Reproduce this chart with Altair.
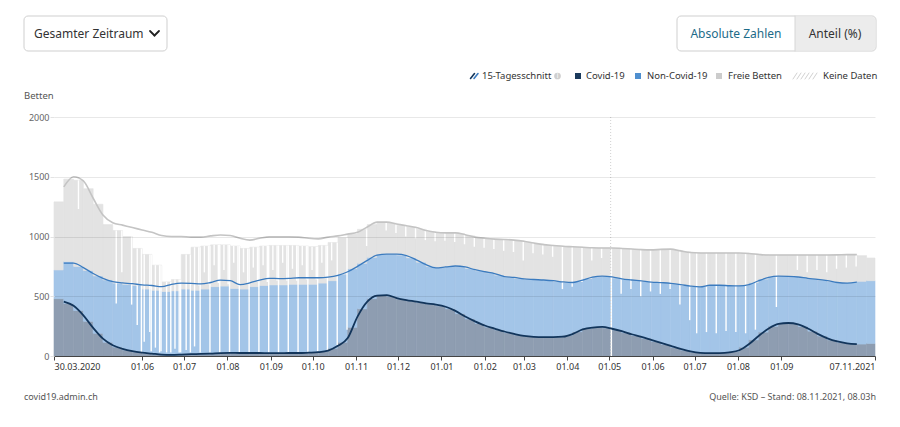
import altair as alt
import pandas as pd

FONT = "Noto Sans"
START = pd.Timestamp("2020-03-30")
END = pd.Timestamp("2021-11-07")

# ---------------- data ----------------
# weekly bars (weeks starting Monday 30.03.2020), stacked levels in beds
week_start = pd.date_range("2020-03-30", periods=84, freq="7D")
covid_bar = [
    480, 440, 380, 290, 190, 115, 75, 50, 34, 24,
    16, 11, 10, 12, 15, 17, 20, 24, 26, 25,
    25, 25, 24, 24, 25, 26, 30, 38, 65, 115,
    240, 395, 480, 508, 498, 477, 462, 448, 435, 420,
    395, 354, 310, 272, 242, 218, 195, 176, 164, 159,
    158, 160, 173, 203, 230, 240, 236, 218, 195, 171,
    148, 122, 98, 72, 49, 32, 25, 24, 27, 39,
    74, 135, 200, 249, 272, 271, 248, 208, 167, 135,
    114, 103, 100, 105]
occupied_bar = [
    720, 790, 750, 715, 670, 636, 610, 600, 590, 560,
    550, 540, 545, 560, 550, 560, 580, 585, 565, 560,
    580, 590, 595, 595, 600, 600, 600, 610, 630, 685,
    730, 775, 825, 850, 852, 845, 822, 785, 750, 740,
    748, 748, 733, 713, 697, 677, 660, 650, 642, 638,
    633, 625, 617, 625, 648, 664, 665, 653, 640, 632,
    623, 616, 611, 603, 591, 581, 585, 592, 590, 587,
    592, 614, 644, 663, 667, 664, 656, 646, 636, 622,
    612, 614, 625, 630]
total_bar = [
    1290, 1480, 1470, 1400, 1270, 1100, 1050, 1000, 900, 850,
    760, 620, 640, 850, 910, 920, 930, 930, 920, 900,
    910, 920, 925, 925, 925, 920, 915, 925, 950, 990,
    1020, 1060, 1100, 1120, 1112, 1095, 1080, 1060, 1040, 1030,
    1030, 1020, 1005, 990, 980, 975, 970, 965, 950, 938,
    928, 920, 915, 912, 908, 905, 904, 902, 898, 892,
    889, 890, 893, 887, 873, 864, 862, 862, 862, 862,
    860, 854, 848, 845, 845, 845, 845, 845, 845, 845,
    847, 848, 840, 820]

# single days with lower reported totals (white notches)
dip_dates = [
    "2020-04-16", "2020-05-13", "2020-05-17", "2020-05-24", "2020-05-28", "2020-05-31",
    "2020-06-02", "2020-06-06", "2020-06-07", "2020-06-10", "2020-06-13", "2020-06-14",
    "2020-06-18", "2020-06-21", "2020-06-24", "2020-06-27", "2020-06-28", "2020-07-02",
    "2020-07-05", "2020-07-08", "2020-07-11", "2020-07-12", "2020-07-18", "2020-07-19",
    "2020-07-25", "2020-07-26", "2020-08-01", "2020-08-02", "2020-08-08", "2020-08-09",
    "2020-08-15", "2020-08-16", "2020-08-22", "2020-08-23", "2020-08-29", "2020-08-30",
    "2020-09-05", "2020-09-06", "2020-09-12", "2020-09-13", "2020-09-19", "2020-09-20",
    "2020-09-26", "2020-09-27", "2020-10-03", "2020-10-04", "2020-10-10", "2020-10-11",
    "2020-10-18", "2020-10-25", "2020-11-08", "2020-11-22", "2020-11-29", "2020-12-06",
    "2020-12-13", "2020-12-20", "2020-12-27", "2021-01-03", "2021-01-10", "2021-01-17",
    "2021-01-24", "2021-01-31", "2021-02-07", "2021-02-14", "2021-02-21", "2021-02-28",
    "2021-03-07", "2021-03-14", "2021-03-21", "2021-03-28", "2021-04-04", "2021-04-11",
    "2021-04-18", "2021-04-25", "2021-05-02", "2021-05-09", "2021-05-16", "2021-05-23",
    "2021-05-30", "2021-06-06", "2021-06-13", "2021-06-20", "2021-06-27", "2021-07-02",
    "2021-07-09", "2021-07-16", "2021-07-23", "2021-07-30", "2021-08-06", "2021-08-13",
    "2021-08-28", "2021-09-12", "2021-09-19", "2021-09-26", "2021-10-03", "2021-10-10",
    "2021-10-17", "2021-10-24",
    "2020-07-15", "2020-07-22", "2020-07-29", "2020-08-05", "2020-08-12", "2020-08-19",
    "2020-08-26", "2020-09-02", "2020-09-09", "2020-09-16", "2020-09-23", "2020-09-30",
    "2020-10-07", "2020-10-14"]
dip_total = [
    1230, 440, 700, 430, 260, 30,
    120, 200, 40, 70, 30, 40,
    30, 30, 60, 30, 30, 50,
    30, 80, 590, 30, 600, 30,
    610, 30, 600, 30, 590, 30,
    600, 30, 620, 30, 620, 30,
    630, 30, 630, 30, 630, 30,
    640, 30, 640, 40, 660, 50,
    90, 220, 920, 1050, 1030, 1000,
    985, 970, 960, 965, 955, 935,
    915, 905, 895, 880, 870, 800,
    860, 850, 830, 560, 580, 620,
    800, 820, 0, 520, 560, 500,
    540, 520, 560, 430, 300, 190,
    200, 190, 210, 200, 190, 220,
    410, 720, 700, 720, 700, 730,
    740, 750,
    700, 760, 720, 780, 700, 740,
    760, 720, 780, 730, 760, 720,
    780, 800]

# 15-day averages (weekly readings), stacked levels
avg_dates = pd.date_range("2020-04-06", periods=82, freq="7D")
covid_avg = [
    455, 420, 340, 235, 145, 90, 60, 40, 28, 20,
    12, 10, 12, 15, 17, 20, 24, 26, 25, 25,
    25, 24, 24, 25, 25, 28, 32, 45, 85, 150,
    330, 455, 505, 510, 485, 468, 455, 440, 430, 412,
    378, 330, 290, 255, 230, 205, 185, 168, 160, 158,
    158, 162, 185, 222, 238, 243, 228, 208, 182, 160,
    135, 110, 85, 60, 38, 26, 24, 24, 30, 48,
    100, 170, 230, 268, 276, 265, 230, 185, 148, 122,
    106, 100]
occupied_avg = [
    778, 778, 740, 690, 650, 622, 612, 605, 595, 590,
    580, 600, 610, 608, 603, 615, 635, 630, 598, 612,
    635, 650, 648, 650, 655, 655, 655, 660, 675, 705,
    750, 800, 845, 852, 852, 840, 805, 765, 738, 745,
    753, 745, 722, 705, 690, 665, 658, 645, 640, 636,
    630, 620, 615, 635, 660, 668, 662, 645, 636, 628,
    619, 614, 608, 598, 585, 578, 592, 592, 588, 586,
    598, 630, 658, 668, 666, 661, 650, 642, 630, 615,
    610, 618]
total_avg = [
    1415, 1500, 1465, 1320, 1180, 1115, 1095, 1075, 1055, 1035,
    1008, 1000, 1000, 995, 995, 1005, 1012, 1008, 985, 970,
    985, 997, 997, 997, 995, 985, 980, 995, 1005, 1020,
    1035, 1080, 1120, 1120, 1105, 1090, 1075, 1050, 1035, 1030,
    1030, 1015, 995, 985, 978, 975, 970, 960, 945, 932,
    925, 918, 914, 910, 906, 904, 904, 900, 895, 890,
    888, 892, 894, 880, 866, 862, 862, 862, 862, 862,
    858, 850, 845, 845, 845, 845, 845, 845, 845, 846,
    848, 848]

marker_date = ["2021-05-02"]

x_ticks = ["2020-03-30", "2020-06-01", "2020-07-01", "2020-08-01", "2020-09-01",
           "2020-10-01", "2020-11-01", "2020-12-01", "2021-01-01", "2021-02-01",
           "2021-03-01", "2021-04-01", "2021-05-01", "2021-06-01", "2021-07-01",
           "2021-08-01", "2021-09-01", "2021-11-07"]
y_ticks = [0, 500, 1000, 1500, 2000]

# ---------------- tables ----------------
rows = []
for i, s in enumerate(week_start):
    e = min(s + pd.Timedelta(days=7), END)
    c, o, t = covid_bar[i], occupied_bar[i], total_bar[i]
    rows.append({"start": s, "end": e, "series": "Covid-19", "lo": 0, "hi": c})
    rows.append({"start": s, "end": e, "series": "Non-Covid-19", "lo": c, "hi": o})
    rows.append({"start": s, "end": e, "series": "Freie Betten", "lo": o, "hi": t})
bars = pd.DataFrame(rows)

dips = pd.DataFrame({"start": pd.to_datetime(dip_dates), "lo": dip_total})
widx = ((dips["start"] - START).dt.days // 7).tolist()
dips["hi"] = [total_bar[i] for i in widx]
dips["end"] = dips["start"] + pd.Timedelta(days=1)

avg = pd.DataFrame({"start": avg_dates, "covid": covid_avg,
                    "occupied": occupied_avg, "total": total_avg})
marker = pd.DataFrame({"start": pd.to_datetime(marker_date)})

def dt(s):
    d = pd.Timestamp(s)
    return alt.DateTime(year=d.year, month=d.month, date=d.day)

x_axis = alt.Axis(values=[dt(v) for v in x_ticks], title=None, grid=False, gridOpacity=0,
                  labelExpr="date(datum.value) == 1 ? timeFormat(datum.value, '%d.%m') : timeFormat(datum.value, '%d.%m.%Y')",
                  labelFlush=True, domainColor="#444", tickColor="#444", tickSize=4,
                  labelFontSize=9, labelColor="#333", labelPadding=2, labelFont=FONT, zindex=1)
y_axis = alt.Axis(values=y_ticks, format="d", title=None, domain=False, tickSize=4,
                  tickColor="#e3e3e3", gridColor="#000000", gridOpacity=0.09,
                  labelFontSize=9, labelColor="#666", labelPadding=1, labelFont=FONT, zindex=1)
xs = alt.Scale(domain=[dt("2020-03-30"), dt("2021-11-07")])
ys = alt.Scale(domain=[0, 2000], nice=False)

cdom = ["Covid-19", "Non-Covid-19", "Freie Betten"]
crange = ["#8e9db1", "#a3c5e8", "#e3e3e3"]

bar_layer = alt.Chart(bars).mark_rect(strokeWidth=0.6).encode(
    x=alt.X("start:T", scale=xs, axis=x_axis), x2="end:T",
    y=alt.Y("hi:Q", scale=ys, axis=y_axis), y2="lo:Q",
    color=alt.Color("series:N", scale=alt.Scale(domain=cdom, range=crange), legend=None),
    stroke=alt.Stroke("series:N", scale=alt.Scale(domain=cdom, range=crange), legend=None),
)
dip_layer = alt.Chart(dips).mark_rect(color="white").encode(
    x=alt.X("start:T", scale=xs, axis=x_axis), x2="end:T",
    y=alt.Y("hi:Q", scale=ys, axis=y_axis), y2="lo:Q",
)
marker_layer = alt.Chart(marker).mark_rule(color="#d0d0d0", strokeDash=[1, 2], strokeWidth=1).encode(
    x=alt.X("start:T", scale=xs, axis=x_axis), y=alt.value(0), y2=alt.value(239))

def avg_line(field, color, width):
    return alt.Chart(avg).mark_line(color=color, strokeWidth=width, interpolate="monotone").encode(
        x=alt.X("start:T", scale=xs, axis=x_axis), y=alt.Y(f"{field}:Q", scale=ys, axis=y_axis))

line_total = avg_line("total", "#c4c4c4", 1.6)
line_occ = avg_line("occupied", "#3b7bbf", 1.3)
line_covid = avg_line("covid", "#12355b", 1.8)

# ---------------- page decorations ----------------
OX, OY = 54, 117
one = pd.DataFrame({"a": [0]})

def text(t, x, y, size=9.5, color="#333", align="left"):
    return alt.Chart(one).mark_text(text=t, align=align, baseline="middle", fontSize=size,
                                    color=color, font=FONT).encode(
        x=alt.value(x - OX), y=alt.value(y - OY))

def box(x1, y1, x2, y2, **kw):
    return alt.Chart(one).mark_rect(**kw).encode(
        x=alt.value(x1 - OX), x2=alt.value(x2 - OX), y=alt.value(y1 - OY), y2=alt.value(y2 - OY))

def seg(x1, y1, x2, y2, color, w):
    return alt.Chart(one).mark_rule(color=color, strokeWidth=w, strokeCap="round").encode(
        x=alt.value(x1 - OX), x2=alt.value(x2 - OX), y=alt.value(y1 - OY), y2=alt.value(y2 - OY))

deco = [
    box(24, 16, 167, 51, fill="white", stroke="#cfcfcf", strokeWidth=1, cornerRadius=4),
    text("Gesamter Zeitraum", 34, 33.5, size=12, color="#333"),
    seg(150, 31, 154.5, 35.5, "#222", 1.8),
    seg(154.5, 35.5, 159, 31, "#222", 1.8),
    box(677, 16, 876, 51, fill="white", stroke="#cfcfcf", strokeWidth=1, cornerRadius=4),
    box(795, 16.5, 875.5, 50.5, fill="#ececec", cornerRadiusTopRight=4, cornerRadiusBottomRight=4),
    seg(795, 16, 795, 51, "#d6d6d6", 1),
    text("Absolute Zahlen", 736, 33.5, size=12, color="#1d6b89", align="center"),
    text("Anteil (%)", 835, 33.5, size=12, color="#333", align="center"),
    # legend
    seg(470.5, 78.5, 474.5, 73.5, "#12355b", 1.6),
    seg(474, 78.5, 478, 73.5, "#3b7bbf", 1.6),
    text("15-Tagesschnitt", 482, 76),
    alt.Chart(one).mark_point(filled=True, color="#cfcfcf", size=45, shape="circle", opacity=1).encode(
        x=alt.value(557.5 - OX), y=alt.value(76 - OY)),
    text("i", 557.5, 76, size=6.5, color="white", align="center"),
    box(575, 73, 581, 79, fill="#1b3a5c"),
    text("Covid-19", 586, 76),
    box(635, 73, 641, 79, fill="#4f8fcf"),
    text("Non-Covid-19", 647, 76),
    box(716, 73, 722, 79, fill="#cccccc"),
    text("Freie Betten", 728, 76),
]
for hx in [793, 797, 801, 805, 809, 813]:
    deco.append(seg(hx, 79, hx + 4, 73, "#cccccc", 0.9))
deco += [
    text("Keine Daten", 823, 76),
    text("Betten", 24, 96, size=9.5, color="#555"),
    text("covid19.admin.ch", 24, 397, size=9, color="#555"),
    text("Quelle: KSD \u2013 Stand: 08.11.2021, 08.03h", 876, 397, size=9, color="#555", align="right"),
]

chart = alt.layer(
    bar_layer, dip_layer, marker_layer, line_total, line_occ, line_covid, *deco
).properties(
    width=821, height=239,
    autosize=alt.AutoSizeParams(type="none"),
    padding={"left": 46, "top": 109, "right": 17, "bottom": 63},
).configure(font=FONT, background="white").configure_view(
    stroke=None, strokeWidth=0, strokeOpacity=0
).configure_axisX(grid=False)

chart.save("out.html", embed_options={"renderer": "svg", "actions": False})
